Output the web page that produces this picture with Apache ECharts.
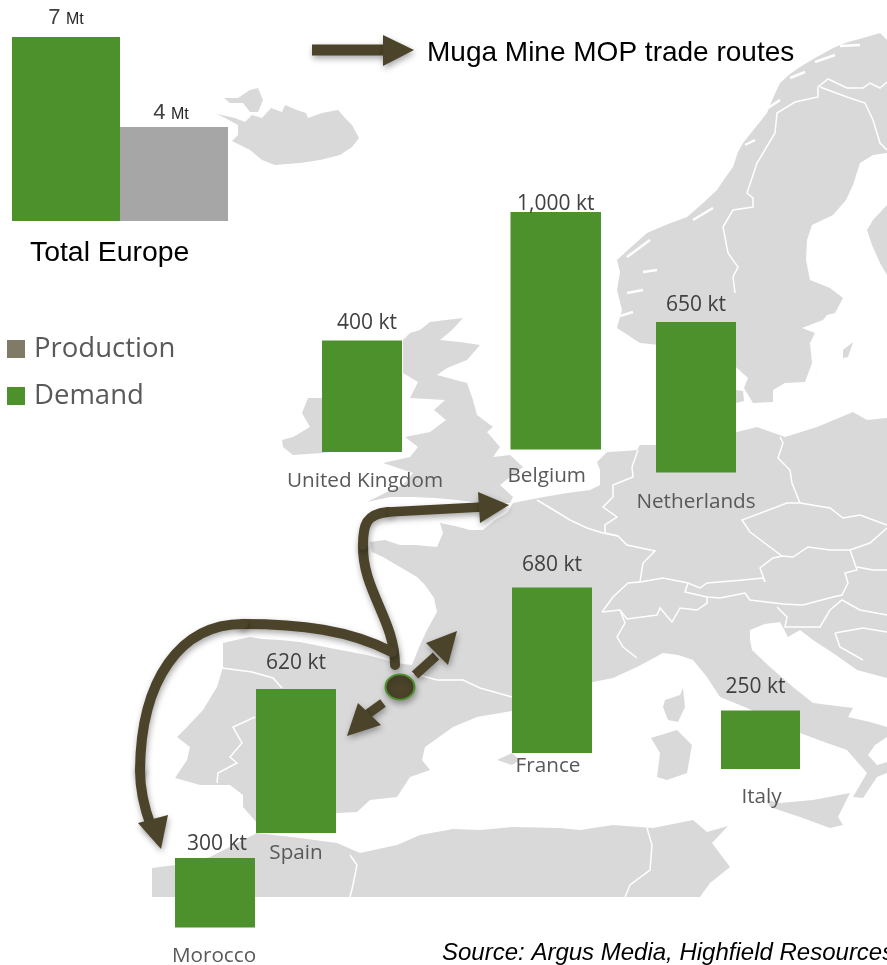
<!DOCTYPE html>
<html>
<head>
<meta charset="utf-8">
<style>html,body{margin:0;padding:0;background:#fff}#c{width:887px;height:965px}</style>
<script src="https://cdn.jsdelivr.net/npm/echarts@6/dist/echarts.min.js"></script>
</head>
<body>
<div id="c"></div>
<script>
// ---- data ----
const countries = ['United Kingdom', 'Belgium', 'Netherlands', 'France', 'Spain', 'Morocco', 'Italy'];
const demandKt = [400, 1000, 650, 680, 620, 300, 250];
const europeCategory = 'Total Europe';
const europeDemandMt = 7;
const europeProductionMt = 4;

// ---- layout (pixel box of each little chart on the map) ----
const boxes = [
  {l:322,r:402,t:340.5,b:452,  dx:5,  dy:-7, lm:19, lp:[0,0,0,6]},
  {l:510.5,r:601,t:212,b:449.5,dx:0,  dy:3,  lm:16, lp:[0,18,0,0]},
  {l:656,r:736,t:322,b:472.5,  dx:0,  dy:-6, lm:19, lp:[0,0,0,0]},
  {l:512,r:592,t:587.5,b:753,  dx:0,  dy:-12,lm:3,  lp:[0,8,0,0]},
  {l:256,r:336,t:689,b:833,    dx:0,  dy:-15,lm:10, lp:[0,0,0,0]},
  {l:175,r:255,t:858,b:927.5,  dx:2,  dy:-3, lm:18, lp:[0,2,0,0]},
  {l:721,r:800,t:710.5,b:769,  dx:-5, dy:-13,lm:18, lp:[0,0,0,2]}
];
const LAND = '#d9d9d9', GREEN = '#4d912c', ROUTE = '#4b442b';

// ---- background map outlines (decoration) ----
const landShapes = [
  // Iceland
  [[217,114],[235,118],[245,122],[252,115],[262,118],[271,108],[282,112],[285,105],[297,110],[306,113],[308,118],[322,113],[338,110],[345,118],[352,125],[359,138],[352,147],[340,155],[320,160],[300,163],[275,165],[262,160],[250,150],[240,145],[232,141],[238,135],[238,125],[225,118]],
  [[224,98],[238,98],[250,90],[258,88],[263,100],[258,112],[250,112],[243,103],[230,103]],
  // Great Britain
  [[430,322],[446,320],[463,318],[452,330],[440,340],[460,342],[480,345],[467,360],[447,368],[437,375],[467,383],[473,400],[477,415],[493,427],[487,432],[500,447],[493,457],[510,455],[523,467],[500,485],[513,497],[510,503],[480,503],[457,500],[435,498],[413,497],[390,497],[367,502],[387,492],[403,485],[413,473],[383,463],[410,457],[418,447],[405,437],[430,432],[446,420],[434,410],[445,400],[410,398],[418,382],[403,373],[403,340],[410,333],[420,330]],
  // Ireland
  [[282,440],[293,437],[310,427],[302,413],[308,398],[322,398],[345,410],[345,450],[322,453],[293,455],[283,447]],
  // Scandinavia
  [[617,328],[622,310],[617,290],[620,272],[617,260],[630,248],[647,233],[668,224],[687,217],[703,203],[717,190],[725,178],[733,167],[738,152],[743,143],[755,128],[767,113],[773,98],[780,83],[790,74],[800,67],[815,58],[833,48],[848,42],[863,38],[880,33],[887,40],[887,153],[873,155],[860,163],[853,185],[846,200],[833,215],[812,225],[807,240],[806,260],[810,280],[830,288],[843,298],[835,313],[827,315],[823,320],[802,328],[815,333],[810,343],[812,363],[805,382],[785,383],[773,390],[773,402],[753,403],[744,388],[748,378],[737,368],[720,355],[700,352],[660,345],[640,343]],
  // Finland
  [[887,205],[873,220],[867,230],[872,245],[880,263],[887,275]],
  // Mainland Europe
  [[223,643],[236,640],[250,637],[262,639],[280,640],[300,642],[330,648],[367,655],[393,662],[403,664],[412,665],[420,645],[427,630],[437,612],[434,598],[425,585],[417,577],[400,567],[383,557],[372,552],[370,542],[385,540],[400,545],[415,545],[437,547],[443,533],[440,523],[455,526],[470,530],[483,530],[495,520],[507,513],[513,503],[538,498],[567,493],[590,490],[600,485],[600,470],[597,462],[607,452],[625,451],[637,450],[640,445],[660,445],[737,432],[757,427],[785,437],[817,427],[853,412],[867,420],[887,418],[887,678],[857,670],[833,653],[813,640],[800,630],[788,637],[780,622],[765,624],[750,630],[750,640],[752,650],[770,667],[793,687],[813,703],[853,708],[848,717],[870,722],[887,727],[887,737],[875,745],[868,755],[877,765],[887,762],[887,773],[877,777],[863,798],[853,797],[867,773],[847,750],[827,743],[800,733],[747,708],[720,697],[707,677],[693,660],[678,655],[663,653],[650,660],[637,667],[613,678],[593,682],[512,711],[477,717],[453,727],[425,747],[422,760],[430,770],[410,777],[397,797],[370,800],[357,812],[337,813],[300,830],[257,823],[243,807],[243,795],[230,785],[200,785],[175,778],[187,760],[190,747],[177,737],[187,727],[203,710],[217,687],[220,677],[223,667]],
  // Islands
  [[767,800],[780,803],[813,800],[850,793],[838,817],[843,825],[830,828],[800,817],[770,807]],
  [[665,700],[680,695],[683,688],[685,707],[678,722],[668,720],[663,707]],
  [[651,738],[677,730],[692,745],[687,773],[667,780],[657,777],[660,753]],
  [[497,760],[512,753],[520,760],[512,765]],
  [[843,350],[853,342],[848,357],[843,358]],
  [[817,373],[819,367],[815,378]],
  [[736,390],[743,391],[744,401],[736,403]],
  // North Africa
  [[152,897],[152,868],[175,865],[210,857],[257,833],[300,838],[337,843],[360,853],[397,845],[420,835],[453,829],[480,830],[513,827],[560,828],[580,830],[613,825],[653,828],[693,820],[707,832],[728,826],[712,843],[730,867],[710,883],[700,897]]
];
const borderLines = [
  [[222,668],[237,670],[252,672],[273,678],[282,688]],
  [[255,717],[233,727],[242,743],[230,757],[237,763],[218,773],[217,783]],
  [[412,673],[437,680],[463,680],[480,688],[512,697]],
  [[537,500],[557,512],[570,520],[587,528],[603,533],[618,536]],
  [[638,450],[632,467],[633,477],[613,485],[613,497],[603,507],[617,517],[605,525],[605,533],[618,536],[627,545],[655,551],[643,563],[640,582],[663,578],[688,583],[700,588],[707,583],[743,580],[763,578],[765,582],[760,568],[773,558],[782,556],[750,532],[742,520],[787,503],[800,503],[792,483],[790,470],[778,458],[783,443],[780,437]],
  [[800,503],[830,508],[843,518],[860,515],[887,525]],
  [[782,556],[793,557],[808,547],[830,550],[850,550],[870,543],[887,528]],
  [[850,550],[857,570],[845,573],[848,583],[842,595],[833,597],[803,605],[783,604],[750,600],[745,593],[720,598],[707,597],[685,592],[688,583]],
  [[857,567],[873,570],[887,570]],
  [[602,612],[620,610],[627,619],[657,615],[660,608],[672,622],[680,608],[697,610],[707,603],[707,597]],
  [[602,612],[613,597],[628,583],[640,582]],
  [[620,610],[625,623],[617,637],[623,647],[637,658]],
  [[777,607],[787,617],[785,627],[820,627],[830,610],[842,600],[860,610],[887,615]],
  [[835,633],[840,647],[863,660]],
  [[835,633],[863,628],[887,632]],
  [[735,293],[733,277],[738,267],[728,253],[723,227],[733,210],[753,207],[753,198],[747,193],[757,163],[775,133],[777,113],[795,102],[818,97],[818,87],[828,79],[847,88],[863,88],[870,83],[880,88],[887,82]],
  [[820,87],[847,97],[865,103],[873,120],[880,143],[887,150]],
  [[647,828],[652,845],[650,870],[630,885],[625,897]],
  [[350,855],[357,865],[353,885],[350,897]]
];
const fjords = [
  [[627,257],[650,240]],[[643,272],[657,270]],[[627,293],[643,290]],[[620,316],[633,312]],[[693,220],[713,208]],
  [[745,145],[755,140]],[[768,108],[780,100]],[[790,78],[805,72]],[[815,62],[835,55]],[[840,46],[860,45]]
];

// ---- route curves (decoration): [x1,y1, cp1x,cp1y, cp2x,cp2y, x2,y2] ----
const routeCurves = [
  [395,665, 395,620, 362,590, 363,545],
  [363,545, 363,525, 366,514, 388,512],
  [392,652, 350,630, 300,624, 243,624],
  [243,624, 180,624, 141,680, 140,770],
  [140,770, 140,788, 145,810, 151,826]
];
const heads = [
  [[478,492],[509,505],[480,523]],
  [[138,823],[168,815],[161,849]],
  [[426,643],[457,631],[448,665]],
  [[358,703],[347,736],[381,725]],
  [[383,35],[414,50],[383,66]]
];
const straightShafts = [
  [[388,512],[482,507]],
  [[415,675],[436,656]],
  [[383,703],[365,716]],
  [[312,50],[386,50]]
];
const shadow = {shadowBlur:6, shadowColor:'rgba(0,0,0,0.35)', shadowOffsetX:1, shadowOffsetY:3};

const graphics = [];
landShapes.forEach(points => graphics.push({type:'polygon', silent:true, z:0, shape:{points}, style:{fill:LAND}}));
borderLines.forEach(points => graphics.push({type:'polyline', silent:true, z:0, shape:{points}, style:{stroke:'#fff', lineWidth:1.5, fill:null}}));
fjords.forEach(points => graphics.push({type:'polyline', silent:true, z:0, shape:{points}, style:{stroke:'#fff', lineWidth:2.5, fill:null}}));
routeCurves.forEach(c => graphics.push({type:'bezierCurve', silent:true, z:1,
  shape:{x1:c[0], y1:c[1], cpx1:c[2], cpy1:c[3], cpx2:c[4], cpy2:c[5], x2:c[6], y2:c[7]},
  style:Object.assign({stroke:ROUTE, lineWidth:10, lineCap:'round', fill:null}, shadow)}));
straightShafts.forEach((points, i) => graphics.push({type:'polyline', silent:true, z:1, shape:{points},
  style:Object.assign({stroke:ROUTE, lineWidth:i === 3 ? 11 : 9.5, fill:null}, shadow)}));
heads.forEach(points => graphics.push({type:'polygon', silent:true, z:1, shape:{points}, style:Object.assign({fill:ROUTE}, shadow)}));
graphics.push({type:'circle', silent:true, z:1, x:400, y:687, scaleY:0.87, shape:{cx:0, cy:0, r:14.5},
  style:Object.assign({fill:ROUTE, stroke:GREEN, lineWidth:2}, shadow)});

// ---- one small grid per bar, so that each bar sits at its spot on the map ----
const grid = [], xAxis = [], yAxis = [], series = [];
function addBar(name, category, value, box, color, labelCfg, axisLabelCfg) {
  const i = grid.length;
  grid.push({left:box.l, top:box.t, width:box.r - box.l, height:box.b - box.t, containLabel:false, outerBoundsMode:'none'});
  xAxis.push({gridIndex:i, type:'category', data:[category], axisLine:{show:false}, axisTick:{show:false}, axisLabel:axisLabelCfg});
  yAxis.push({gridIndex:i, type:'value', min:0, max:value, show:false, splitLine:{show:false}});
  series.push({name, type:'bar', xAxisIndex:i, yAxisIndex:i, data:[value], barWidth:'100%',
    itemStyle:{color}, label:labelCfg, silent:true, animation:false});
}
const kt = v => v.toLocaleString('en-US') + ' kt';
countries.forEach((c, i) => {
  const b = boxes[i];
  addBar('Demand', c, demandKt[i], b, GREEN,
    {show:true, position:'top', distance:0, offset:[b.dx, b.dy], formatter:kt(demandKt[i]),
     fontFamily:'Open Sans', fontSize:21, color:'#404040'},
    {show:true, interval:0, margin:b.lm, padding:b.lp, fontFamily:'Open Sans', fontSize:20.7, color:'#595959'});
});
const mtRich = {n:{fontFamily:'Liberation Sans', fontSize:22, color:'#404040', padding:[0,2,0,0]}, u:{fontFamily:'Liberation Sans', fontSize:16, color:'#262626', padding:[3,0,0,0]}};
const hiddenAxisLabel = {show:false};
addBar('Demand', europeCategory, europeDemandMt, {l:12,r:120,t:37,b:221}, GREEN,
  {show:true, position:'top', distance:8, formatter:'{n|' + europeDemandMt + '} {u|Mt}', rich:mtRich}, hiddenAxisLabel);
addBar('Production', europeCategory, europeProductionMt, {l:120,r:228,t:127,b:221}, '#a6a6a6',
  {show:true, position:'top', distance:3, offset:[-3,0], formatter:'{n|' + europeProductionMt + '} {u|Mt}', rich:mtRich}, hiddenAxisLabel);

const option = {
  animation:false,
  backgroundColor:'#fff',
  title:[
    {text:'Muga Mine MOP trade routes', left:427, top:39, padding:0, textStyle:{fontFamily:'Liberation Sans', fontSize:28, fontWeight:'normal', color:'#000'}},
    {text:europeCategory, left:30, top:239, padding:0, textStyle:{fontFamily:'Liberation Sans', fontSize:28.4, fontWeight:'normal', color:'#000'}},
    {text:'Source: Argus Media, Highfield Resources', left:442, top:941, padding:0, textStyle:{fontFamily:'Liberation Sans', fontSize:24, fontStyle:'italic', fontWeight:'normal', color:'#000'}}
  ],
  legend:{
    left:7, top:335, orient:'vertical', selectedMode:false, padding:0,
    itemWidth:18, itemHeight:18, itemGap:19, icon:'rect',
    data:[{name:'Production', itemStyle:{color:'#807b66'}}, {name:'Demand', itemStyle:{color:GREEN}}],
    textStyle:{fontFamily:'Open Sans', fontSize:27.5, color:'#595959', padding:[8,0,0,4]}
  },
  grid, xAxis, yAxis, series,
  graphic:{elements:graphics}
};
echarts.init(document.getElementById('c'), null, {renderer:'canvas'}).setOption(option);
</script>
</body>
</html>
